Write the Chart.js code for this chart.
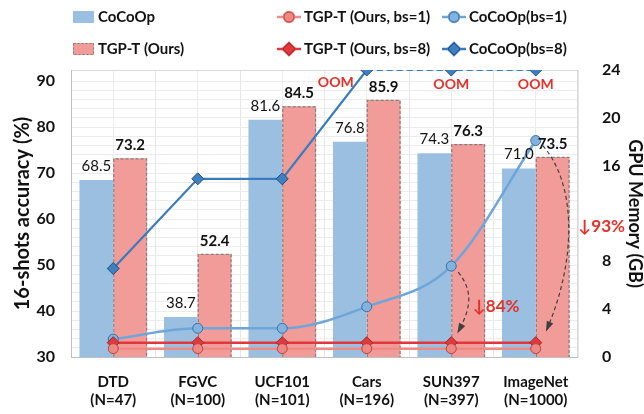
<!DOCTYPE html>
<html>
<head>
<meta charset="utf-8">
<script src="https://cdn.jsdelivr.net/npm/chart.js@4/dist/chart.umd.min.js"></script>
<style>
  html, body { margin: 0; padding: 0; background: #ffffff; }
  #wrap { width: 644px; height: 414px; position: relative; }
</style>
</head>
<body>
<div id="wrap"><canvas id="c" width="644" height="414"></canvas></div>
<script>
// ---------- data ----------
const categories = [['DTD', '(N=47)'], ['FGVC', '(N=100)'], ['UCF101', '(N=101)'], ['Cars', '(N=196)'], ['SUN397', '(N=397)'], ['ImageNet', '(N=1000)']];
const cocoopAcc = [68.5, 38.7, 81.6, 76.8, 74.3, 71.0];
const tgptAcc = [73.2, 52.4, 84.5, 85.9, 76.3, 73.5];
const tgptMemBs1 = [0.7, 0.7, 0.7, 0.7, 0.7, 0.7];
const tgptMemBs8 = [1.2, 1.2, 1.2, 1.2, 1.2, 1.2];
const cocoopMemBs1 = [1.5, 2.4, 2.4, 4.2, 7.6, 18.1];
const cocoopMemBs8 = [7.4, 14.9, 14.9, 24, 24, 24];
const oomLabels = ['', '', '', 'OOM', 'OOM', 'OOM'];
const accTicks = [30, 40, 50, 60, 70, 80, 90];
const memTicks = [0, 4, 8, 12, 16, 20, 24];
const reductionLabels = ['↓84%', '↓93%'];

const FONT = 'Lato, "Liberation Sans", sans-serif';
const RED = '#E8302A';

const legendPlugin = {
  id: 'customLegend',
  afterDraw(chart) {
    const ctx = chart.ctx;
    ctx.save();
    ctx.font = 'bold 15px ' + FONT;
    ctx.textBaseline = 'middle';
    ctx.fillStyle = '#111';
    const r1 = 17, r2 = 49;
    ctx.fillStyle = '#9BBFE0';
    ctx.fillRect(73, r1 - 6, 21, 12);
    ctx.fillStyle = '#F19C99';
    ctx.fillRect(73, r2 - 6, 21, 12);
    ctx.strokeStyle = '#7f7f7f';
    ctx.lineWidth = 1;
    ctx.setLineDash([2, 2]);
    ctx.strokeRect(73.5, r2 - 5.5, 20, 11);
    ctx.setLineDash([]);
    ctx.fillStyle = '#111';
    ctx.fillText('CoCoOp', 98, r1);
    ctx.fillText('TGP-T (Ours)', 98, r2);
    const metas = chart.data.datasets;
    const items = [
      [2, 277, r1, 'TGP-T (Ours, bs=1)'],
      [4, 442, r1, 'CoCoOp(bs=1)'],
      [3, 277, r2, 'TGP-T (Ours, bs=8)'],
      [5, 442, r2, 'CoCoOp(bs=8)']
    ];
    items.forEach(([di, x, y, txt]) => {
      const ds = metas[di];
      ctx.strokeStyle = ds.borderColor;
      ctx.lineWidth = 2.5;
      ctx.beginPath(); ctx.moveTo(x, y); ctx.lineTo(x + 24, y); ctx.stroke();
      Chart.helpers.drawPoint(ctx, {
        pointStyle: ds.pointStyle, radius: ds.pointRadius, borderWidth: 1, rotation: 0
      }, x + 12, y);
      ctx.fillStyle = ds.pointBackgroundColor;
      ctx.strokeStyle = ds.pointBorderColor;
      ctx.lineWidth = 1;
      ctx.fill(); ctx.stroke();
      ctx.fillStyle = '#111';
      ctx.fillText(txt, x + 27, y);
    });
    ctx.restore();
  }
};

const frameAndLabels = {
  id: 'frameAndLabels',
  beforeDatasetsDraw(chart) {
    const { ctx, chartArea: a } = chart;
    ctx.save();
    ctx.strokeStyle = '#d9d9d9';
    ctx.lineWidth = 1;
    ctx.strokeRect(a.left + 0.5, a.top + 0.5, a.right - a.left - 1, a.bottom - a.top);
    ctx.strokeStyle = '#bfbfbf';
    ctx.beginPath(); ctx.moveTo(a.left + 0.5, a.top); ctx.lineTo(a.left + 0.5, a.bottom); ctx.stroke();
    ctx.beginPath(); ctx.moveTo(a.left, a.bottom + 0.5); ctx.lineTo(a.right, a.bottom + 0.5); ctx.stroke();
    ctx.restore();
  },
  afterDatasetDraw(chart, args) {
    if (args.index !== 1) return;
    const ctx = chart.ctx;
    const meta = chart.getDatasetMeta(1);
    const bottom = chart.chartArea.bottom;
    ctx.save();
    ctx.strokeStyle = '#7f7f7f';
    ctx.lineWidth = 1.2;
    ctx.setLineDash([3, 2]);
    meta.data.forEach(b => {
      const l = b.x - b.width / 2, r = b.x + b.width / 2;
      const base = Math.min(b.base, bottom);
      ctx.beginPath();
      ctx.moveTo(l + 0.5, base);
      ctx.lineTo(l + 0.5, b.y + 0.5);
      ctx.lineTo(r - 0.5, b.y + 0.5);
      ctx.lineTo(r - 0.5, base);
      ctx.stroke();
    });
    ctx.restore();
  },
  afterDatasetsDraw(chart) {
    const ctx = chart.ctx;
    const xs = chart.scales.x, ym = chart.scales.y1;
    ctx.save();
    ctx.textAlign = 'center';
    ctx.textBaseline = 'middle';
    ctx.fillStyle = '#111';
    const m0 = chart.getDatasetMeta(0), m1 = chart.getDatasetMeta(1);
    ctx.font = '15px ' + FONT;
    m0.data.forEach((b, i) => ctx.fillText(cocoopAcc[i].toFixed(1), b.x, b.y - 14));
    ctx.font = 'bold 15px ' + FONT;
    m1.data.forEach((b, i) => ctx.fillText(tgptAcc[i].toFixed(1), b.x, b.y - 13));
    // OOM labels
    ctx.fillStyle = RED;
    ctx.font = 'bold 14px ' + FONT;
    oomLabels.forEach((t, i) => {
      if (!t) return;
      const x = xs.getPixelForValue(i);
      const y = ym.getPixelForValue(cocoopMemBs8[i]);
      if (i === 3) ctx.fillText(t, x - 31, y + 12);
      else ctx.fillText(t, x, y + 14);
    });
    // arrows
    ctx.strokeStyle = '#404040';
    ctx.lineWidth = 1.2;
    const drawArrow = (sx, sy, c1x, c1y, c2x, c2y, ex, ey) => {
      ctx.setLineDash([4, 3]);
      ctx.beginPath(); ctx.moveTo(sx, sy); ctx.bezierCurveTo(c1x, c1y, c2x, c2y, ex, ey); ctx.stroke();
      const ang = Math.atan2(ey - c2y, ex - c2x);
      ctx.setLineDash([]);
      ctx.fillStyle = '#404040';
      ctx.beginPath();
      ctx.moveTo(ex + 2 * Math.cos(ang), ey + 2 * Math.sin(ang));
      ctx.lineTo(ex - 9 * Math.cos(ang - 0.4), ey - 9 * Math.sin(ang - 0.4));
      ctx.lineTo(ex - 9 * Math.cos(ang + 0.4), ey - 9 * Math.sin(ang + 0.4));
      ctx.closePath(); ctx.fill();
    };
    const xSun = xs.getPixelForValue(4), xImg = xs.getPixelForValue(5);
    const ySunTop = ym.getPixelForValue(cocoopMemBs1[4]);
    const yImgTop = ym.getPixelForValue(cocoopMemBs1[5]);
    const yBot = ym.getPixelForValue(tgptMemBs8[4]);
    drawArrow(xSun + 7, ySunTop + 6, xSun + 22, ySunTop + 25, xSun + 20, yBot - 35, xSun + 7, yBot - 11);
    drawArrow(xImg + 7, yImgTop + 5, xImg + 42, yImgTop + 45, xImg + 40, yBot - 80, xImg + 11, yBot - 13);
    // reduction labels
    ctx.fillStyle = RED;
    ctx.font = 'bold 17px ' + FONT;
    ctx.fillText(reductionLabels[0], xSun + 45, ym.getPixelForValue(4.2));
    ctx.fillText(reductionLabels[1], xImg + 66, ym.getPixelForValue(10.9));
    ctx.restore();
  }
};

new Chart(document.getElementById('c'), {
  data: {
    labels: categories,
    datasets: [
      { type: 'bar', label: 'CoCoOp', data: cocoopAcc, yAxisID: 'y', xAxisID: 'x',
        backgroundColor: '#9BBFE0', borderWidth: 0, categoryPercentage: 0.8, barPercentage: 1.0, order: 2 },
      { type: 'bar', label: 'TGP-T (Ours)', data: tgptAcc, yAxisID: 'y', xAxisID: 'x',
        backgroundColor: '#F19C99', borderWidth: 0, categoryPercentage: 0.8, barPercentage: 1.0, order: 2 },
      { type: 'line', label: 'TGP-T (Ours, bs=1)', data: tgptMemBs1, yAxisID: 'y1', xAxisID: 'x',
        borderColor: '#F08A86', borderWidth: 2.5, pointStyle: 'circle', pointRadius: 5,
        pointBackgroundColor: '#EE8883', pointBorderColor: '#B84440', pointBorderWidth: 1, order: 1 },
      { type: 'line', label: 'TGP-T (Ours, bs=8)', data: tgptMemBs8, yAxisID: 'y1', xAxisID: 'x',
        borderColor: '#E0383D', borderWidth: 2.5, pointStyle: 'rectRot', pointRadius: 6,
        pointBackgroundColor: '#E0383D', pointBorderColor: '#9E2A2A', pointBorderWidth: 1, order: 1 },
      { type: 'line', label: 'CoCoOp(bs=1)', data: cocoopMemBs1, yAxisID: 'y1', xAxisID: 'x',
        borderColor: '#6EA6D9', borderWidth: 2.5, pointStyle: 'circle', pointRadius: 5,
        cubicInterpolationMode: 'monotone',
        pointBackgroundColor: '#80B3E0', pointBorderColor: '#3F6F9C', pointBorderWidth: 1, order: 1 },
      { type: 'line', label: 'CoCoOp(bs=8)', data: cocoopMemBs8, yAxisID: 'y1', xAxisID: 'x',
        borderColor: '#3A7BBF', borderWidth: 2.2, pointStyle: 'rectRot', pointRadius: 6,
        pointBackgroundColor: '#3E7FC1', pointBorderColor: '#264F7A', pointBorderWidth: 1, order: 0,
        segment: { borderDash: c => (c.p0DataIndex >= 3 ? [6, 4] : undefined) } }
    ]
  },
  options: {
    responsive: false,
    animation: false,
    events: [],
    layout: { padding: { top: 70, left: 0, right: 0, bottom: 0 } },
    plugins: { legend: { display: false }, tooltip: { enabled: false } },
    scales: {
      x: {
        type: 'category', position: 'bottom', offset: true,
        grid: { offset: true, color: '#e6e6e6', drawTicks: false },
        border: { display: false },
        ticks: { color: '#111', font: { family: FONT, size: 15, weight: 'bold' }, padding: 16, maxRotation: 0, autoSkip: false },
        afterFit: s => { s.height = 57; }
      },
      x2: {
        type: 'category', position: 'bottom', offset: true,
        grid: { offset: false, color: '#ececec', drawTicks: false },
        border: { display: false },
        ticks: { display: false },
        afterFit: s => { s.height = 0; }
      },
      y: {
        type: 'linear', position: 'left', min: 30, max: 92.4,
        grid: { display: false },
        border: { display: false },
        afterBuildTicks: s => { s.ticks = accTicks.map(v => ({ value: v })); },
        ticks: { color: '#111', font: { family: FONT, size: 16, weight: 'bold' }, padding: 8 },
        title: { display: true, text: '16-shots accuracy (%)', color: '#111',
                 font: { family: FONT, size: 20, weight: 'bold', lineHeight: 1.0 }, padding: { top: 13, bottom: 0 } },
        afterFit: s => { s.width = 71; }
      },
      yMinor: {
        type: 'linear', position: 'left', min: 30, max: 92.4,
        grid: { color: '#ececec', drawTicks: false },
        border: { display: false },
        ticks: { display: false, stepSize: 2 },
        afterFit: s => { s.width = 0; }
      },
      y1: {
        type: 'linear', position: 'right', min: 0, max: 24,
        grid: { display: false },
        border: { display: false },
        afterBuildTicks: s => { s.ticks = memTicks.filter(v => v !== 12).map(v => ({ value: v })); },
        ticks: { color: '#111', font: { family: FONT, size: 16, weight: 'bold' }, padding: 16 },
        title: { display: true, text: 'GPU Memory (GB)', color: '#111',
                 font: { family: FONT, size: 18, weight: 'bold', lineHeight: 1.0 }, padding: { top: 0, bottom: 0 } },
        afterFit: s => { s.width = 66; }
      }
    }
  },
  plugins: [legendPlugin, frameAndLabels]
});
</script>
</body>
</html>
